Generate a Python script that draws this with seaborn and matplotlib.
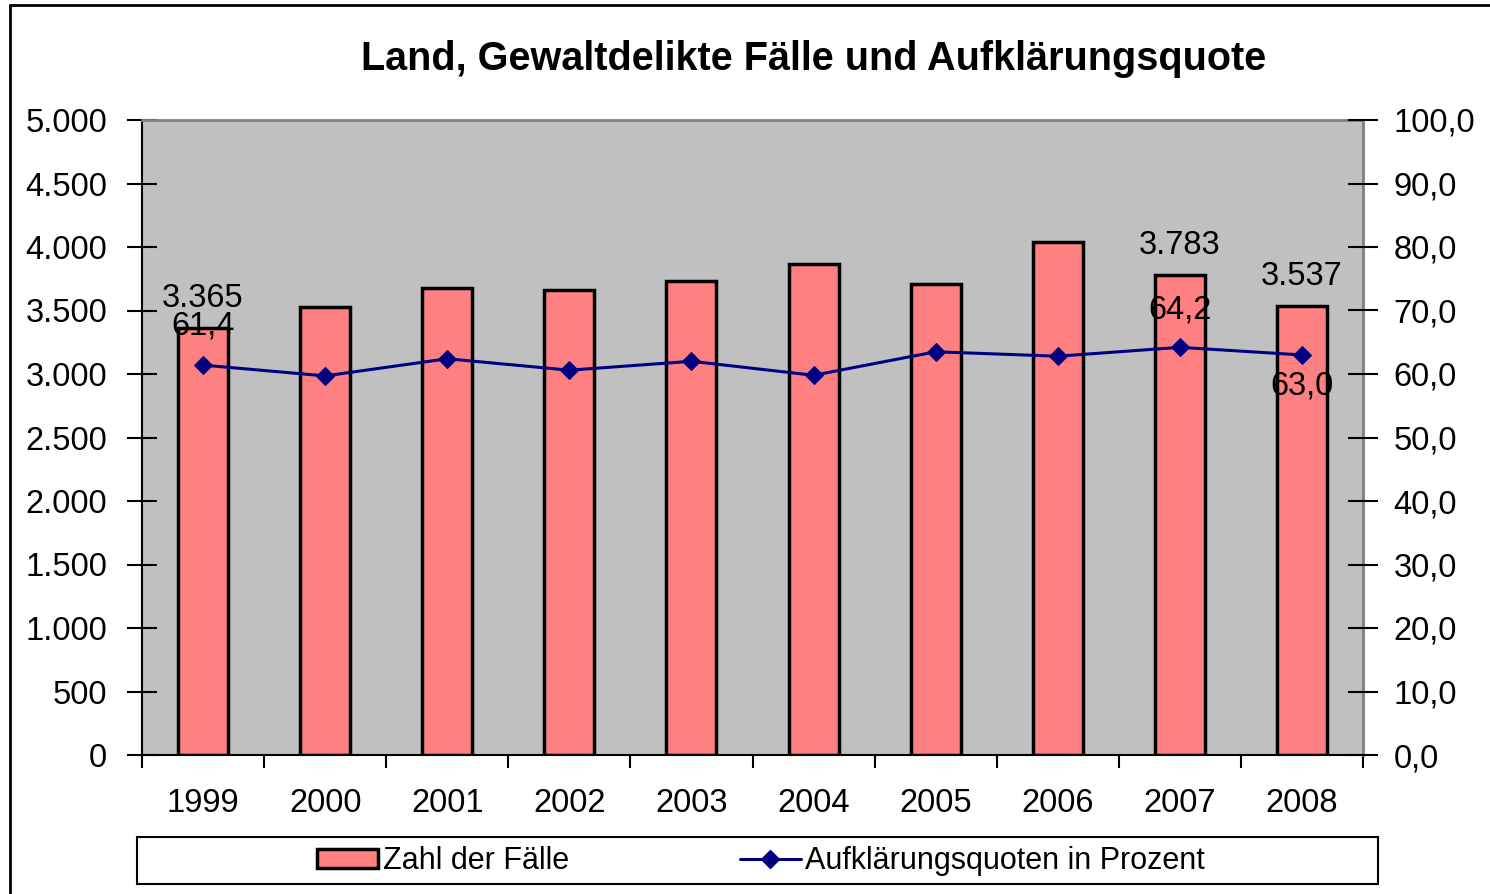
import numpy as np
import pandas as pd
import matplotlib
matplotlib.use("Agg")
import matplotlib.pyplot as plt
from matplotlib.patches import Patch, Rectangle
from matplotlib.lines import Line2D
import seaborn as sns

years = ["1999", "2000", "2001", "2002", "2003", "2004", "2005", "2006", "2007", "2008"]
cases = [3365, 3530, 3680, 3660, 3730, 3870, 3710, 4040, 3783, 3537]
rate = [61.4, 59.7, 62.4, 60.6, 62.0, 59.8, 63.5, 62.8, 64.2, 63.0]
left_ticks = [0, 500, 1000, 1500, 2000, 2500, 3000, 3500, 4000, 4500, 5000]
right_ticks = [0, 10, 20, 30, 40, 50, 60, 70, 80, 90, 100]
case_labels = {0: "3.365", 8: "3.783", 9: "3.537"}
rate_labels = {0: ("61,4", 28), 8: ("64,2", 27), 9: ("63,0", -22)}
title = "Land, Gewaltdelikte Fälle und Aufklärungsquote"
legend_labels = ["Zahl der Fälle", "Aufklärungsquoten in Prozent"]

sns.set_theme(style="white")
plt.rcParams["font.family"] = ["Liberation Sans", "DejaVu Sans"]
plt.rcParams["text.color"] = "black"
plt.rcParams["xtick.color"] = "black"
plt.rcParams["ytick.color"] = "black"
plt.rcParams["xtick.labelcolor"] = "black"
plt.rcParams["ytick.labelcolor"] = "black"

FS = 23.5
fig = plt.figure(figsize=(14.9, 8.94), dpi=100)
ax = fig.add_axes([142 / 1490, 1 - 755 / 894, (1363 - 142) / 1490, (755 - 120) / 894])
ax.set_facecolor("#C0C0C0")

df = pd.DataFrame({"year": years, "cases": cases})
sns.barplot(data=df, x="year", y="cases", ax=ax, color="#FF8080", saturation=1,
            width=0.41, edgecolor="black", linewidth=2.5, zorder=2)
ax.set_xlim(-0.5, len(years) - 0.5)
ax.set_ylim(0, 5000)
ax.set_xlabel("")
ax.set_ylabel("")
ax.set_yticks(left_ticks)
ax.set_yticklabels([f"{v:,}".replace(",", ".") for v in left_ticks], fontsize=FS)
ax.tick_params(axis="y", direction="inout", length=22, width=1.5, pad=14, color="black", left=True)
ax.set_xticks(range(len(years)))
ax.set_xticklabels(years, fontsize=FS)
ax.set_xticks(np.arange(-0.5, len(years), 1), minor=True)
ax.tick_params(axis="x", which="major", length=0, pad=24)
ax.tick_params(axis="x", which="minor", direction="out", length=9, width=1.5, color="black", bottom=True)
for s in ["left", "bottom"]:
    ax.spines[s].set_color("black")
    ax.spines[s].set_linewidth(1.5)
for s in ["top", "right"]:
    ax.spines[s].set_color("#808080")
    ax.spines[s].set_linewidth(2)

ax2 = ax.twinx()
sns.lineplot(x=np.arange(len(years)), y=rate, ax=ax2, color="#000080", linewidth=2.2,
             marker="D", markersize=9.5, markeredgecolor="#000080", zorder=3)
ax2.set_ylim(0, 100)
ax2.set_yticks(right_ticks)
ax2.set_yticklabels([f"{v:.1f}".replace(".", ",") for v in right_ticks], fontsize=FS)
ax2.tick_params(axis="y", direction="inout", length=22, width=1.5, pad=11, color="black", right=True)
for s in ax2.spines.values():
    s.set_visible(False)
ax2.set_ylabel("")

for i, txt in case_labels.items():
    ax.annotate(txt, (i, cases[i]), xytext=(0, 10), textcoords="offset points",
                ha="center", va="bottom", fontsize=FS, color="black")
for i, (txt, off) in rate_labels.items():
    ax2.annotate(txt, (i, rate[i]), xytext=(0, off), textcoords="offset points",
                 ha="center", va="center", fontsize=FS, color="black")

fig.text(814 / 1490, 1 - 59 / 894, title, ha="center", va="center",
         fontsize=28.5, fontweight="bold", color="black")

# legend box
fig.patches.append(Rectangle((137 / 1490, 1 - 884 / 894), (1378 - 137) / 1490, 47 / 894,
                             transform=fig.transFigure, facecolor="white",
                             edgecolor="black", linewidth=1.5))
handles = [Patch(facecolor="#FF8080", edgecolor="black", linewidth=2.5),
           Line2D([], [], color="#000080", linewidth=2.2, marker="D", markersize=9.5)]
fig.legend(handles, legend_labels, loc="center", bbox_to_anchor=(761 / 1490, 1 - 861 / 894),
           ncol=2, frameon=False, fontsize=22, handlelength=2.0, handleheight=0.6,
           handletextpad=0.15, columnspacing=5.6)

# outer frame lines (top and left)
fig.add_artist(Line2D([10 / 1490, 1], [1 - 5 / 894, 1 - 5 / 894], transform=fig.transFigure,
                      color="black", linewidth=2))
fig.add_artist(Line2D([10 / 1490, 10 / 1490], [0, 1 - 5 / 894], transform=fig.transFigure,
                      color="black", linewidth=2))

fig.savefig("out.png", dpi=100)
